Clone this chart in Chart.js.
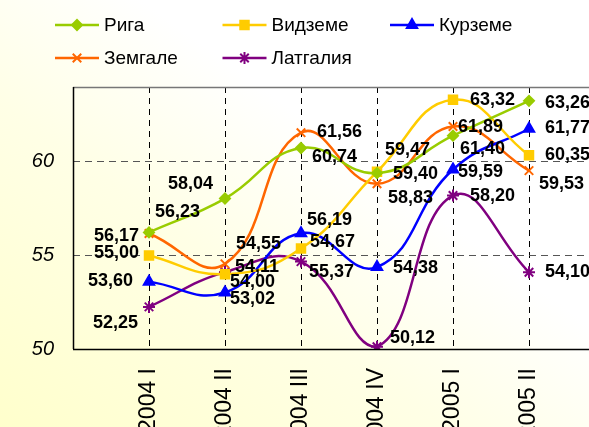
<!DOCTYPE html>
<html><head><meta charset="utf-8">
<script src="https://cdn.jsdelivr.net/npm/chart.js@4/dist/chart.umd.min.js"></script>
<style>
html,body{margin:0;padding:0;width:589px;height:427px;overflow:hidden;}
body{background:linear-gradient(to top right,#FFFFCC 0%,#FFFFE6 38%,#FFFFFF 62%);}
#wrap{position:absolute;left:0;top:0;width:640px;height:427px;}
</style></head>
<body><div id="wrap"><canvas id="c" width="640" height="427"></canvas></div>
<script>
const categories = ['2004 I','2004 II','2004 III','2004 IV','2005 I','2005 II'];
const seriesNames = ['Рига','Видземе','Курземе','Земгале','Латгалия'];
const riga     = [56.23, 58.04, 60.74, 59.40, 61.40, 63.26];
const vidzeme  = [55.00, 54.00, 55.37, 59.47, 63.32, 60.35];
const kurzeme  = [53.60, 53.02, 56.19, 54.38, 59.59, 61.77];
const zemgale  = [56.17, 54.55, 61.56, 58.83, 61.89, 59.53];
const latgale  = [52.25, 54.11, 54.67, 50.12, 58.20, 54.10];
const yTicks = [50, 55, 60];

const seriesValues = [riga, vidzeme, kurzeme, zemgale, latgale];
const colors = ['#99CC00','#FFCC00','#0000FF','#FF6600','#800080'];
const styles = ['rectRot','rect','triangle','crossRot','star'];
const radii = [5,6,6,6,6];
// label placement (left edge / vertical centre offset from point, px)
const labelOffsets = [
  [[6,-20],[-57,-15],[11,9],[16,1],[7,13],[16,2]],
  [[-55,-2],[5,8],[8,24],[8,-22],[17,0],[16,0]],
  [[-61,-1],[5,7],[6,-13],[16,1],[5,3],[16,-1]],
  [[-55,2],[11,-20],[16,-1],[11,14],[5,1],[10,13]],
  [[-56,16],[10,-5],[9,-20],[13,-9],[17,0],[16,0]]
];
const FONT = '"Liberation Sans", Arial, sans-serif';

const datasets = seriesValues.map((vals, i) => ({
  label: seriesNames[i],
  data: vals.map((v, j) => ({x: j + 1, y: v})),
  borderColor: colors[i],
  backgroundColor: colors[i],
  pointBackgroundColor: colors[i],
  pointBorderColor: colors[i],
  pointStyle: styles[i],
  pointRadius: radii[i],
  pointBorderWidth: 2,
  borderWidth: 2.5,
  tension: 0.45,
  fill: false
}));

const labelPlugin = {
  id: 'valueLabels',
  afterDatasetsDraw(chart) {
    const ctx = chart.ctx;
    ctx.save();
    ctx.font = 'bold 18px ' + FONT;
    ctx.fillStyle = '#000';
    ctx.textAlign = 'left';
    ctx.textBaseline = 'middle';
    chart.data.datasets.forEach((ds, i) => {
      const meta = chart.getDatasetMeta(i);
      meta.data.forEach((pt, j) => {
        const off = labelOffsets[i][j];
        const txt = seriesValues[i][j].toFixed(2).replace('.', ',');
        ctx.fillText(txt, pt.x + off[0], pt.y + off[1]);
      });
    });
    ctx.restore();
  }
};

const framePlugin = {
  id: 'frame',
  afterDraw(chart) {
    const a = chart.chartArea, ctx = chart.ctx;
    ctx.save();
    ctx.lineWidth = 1.5;
    ctx.strokeStyle = '#777';
    ctx.beginPath(); ctx.moveTo(a.left, a.top + 0.5); ctx.lineTo(a.right, a.top + 0.5); ctx.stroke();
    ctx.strokeStyle = '#000';
    ctx.beginPath(); ctx.moveTo(a.left + 0.5, a.top); ctx.lineTo(a.left + 0.5, a.bottom); ctx.stroke();
    ctx.beginPath(); ctx.moveTo(a.left, a.bottom + 0.5); ctx.lineTo(a.right, a.bottom + 0.5); ctx.stroke();
    ctx.restore();
  }
};

const legendPlugin = {
  id: 'customLegend',
  afterDraw(chart) {
    const ctx = chart.ctx;
    ctx.save();
    ctx.font = '19px ' + FONT;
    ctx.textBaseline = 'middle';
    ctx.textAlign = 'left';
    chart.data.datasets.forEach((ds, i) => {
      const col = i % 3, row = Math.floor(i / 3);
      const x = 55 + col * 167.5, y = 25 + row * 33;
      ctx.strokeStyle = ds.borderColor;
      ctx.lineWidth = 2.5;
      ctx.beginPath(); ctx.moveTo(x, y); ctx.lineTo(x + 44, y); ctx.stroke();
      ctx.fillStyle = ds.borderColor;
      ctx.lineWidth = 2;
      Chart.helpers.drawPoint(ctx, {pointStyle: ds.pointStyle, radius: ds.pointRadius, borderWidth: 2, rotation: 0}, x + 22, y);
      ctx.fillStyle = '#000';
      ctx.fillText(ds.label, x + 49, y + 1);
    });
    ctx.restore();
  }
};

new Chart(document.getElementById('c'), {
  type: 'line',
  data: {datasets},
  plugins: [labelPlugin, framePlugin, legendPlugin],
  options: {
    responsive: false,
    animation: false,
    layout: {padding: {top: 87, right: 35, left: 0, bottom: 0}},
    plugins: {legend: {display: false}, tooltip: {enabled: false}},
    scales: {
      x: {
        type: 'linear', min: 0, max: 7,
        afterFit(s) { s.height = 78; s.paddingLeft = 0; s.paddingRight = 0; },
        afterBuildTicks(s) { s.ticks = [0,1,2,3,4,5,6,7].map(v => ({value: v})); },
        ticks: {
          autoSkip: false, minRotation: 90, maxRotation: 90, padding: 19,
          color: '#000', font: {family: FONT, size: 23},
          callback: v => categories[v - 1] || ''
        },
        grid: {
          drawTicks: false,
          color: c => (c.tick && c.tick.value >= 1 && c.tick.value <= 6) ? '#000' : 'rgba(0,0,0,0)',
          lineWidth: 1
        },
        border: {display: false, dash: [6, 5]}
      },
      y: {
        min: 50, max: 64,
        afterFit(s) { s.width = 73; s.paddingTop = 0; s.paddingBottom = 0; },
        afterBuildTicks(s) { s.ticks = yTicks.map(v => ({value: v})); },
        ticks: {
          padding: 19, color: '#000',
          font: {family: FONT, size: 20, style: 'italic'},
          callback: v => String(v)
        },
        grid: {
          drawTicks: false,
          color: c => (c.tick && c.tick.value > 50) ? '#555' : 'rgba(0,0,0,0)',
          lineWidth: 1
        },
        border: {display: false, dash: [7, 5]}
      }
    }
  }
});
</script>
</body></html>
